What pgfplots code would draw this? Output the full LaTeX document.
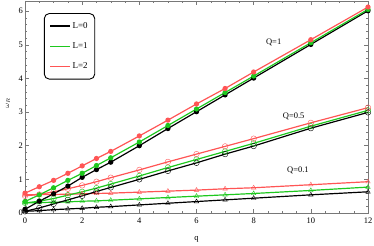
\documentclass[border=0pt]{standalone}
\usepackage{fontspec}
\setmainfont{Liberation Serif}
\usepackage{pgfplots}
\usepackage{pgfplotstable}
\pgfplotsset{compat=1.18}
\definecolor{cgreen}{RGB}{30,200,30}
\definecolor{cred}{RGB}{255,85,85}
\definecolor{cframe}{RGB}{120,120,120}

\pgfplotstableread{
q L0 L1 L2
0 0.11 0.34 0.59
0.5 0.35 0.54 0.78
1 0.57 0.75 0.97
1.5 0.80 0.97 1.18
2 1.06 1.18 1.40
2.5 1.29 1.41 1.62
3 1.51 1.64 1.83
4 2.00 2.11 2.29
5 2.51 2.60 2.76
6 3.01 3.09 3.24
7 3.51 3.58 3.70
8 4.01 4.07 4.19
10 5.01 5.06 5.15
12 6.01 6.05 6.12
}\qone

\pgfplotstableread{
q L0 L1 L2
0 0.05 0.30 0.51
0.5 0.15 0.35 0.55
1 0.27 0.43 0.63
1.5 0.39 0.53 0.72
2 0.51 0.63 0.82
2.5 0.64 0.74 0.93
3 0.76 0.86 1.05
4 1.00 1.10 1.28
5 1.25 1.35 1.52
6 1.49 1.59 1.75
7 1.75 1.83 1.98
8 1.99 2.07 2.21
10 2.52 2.58 2.68
12 2.99 3.05 3.13
}\qhalf

\pgfplotstableread{
q L0 L1 L2
0 0.05 0.30 0.54
0.5 0.07 0.31 0.55
1 0.10 0.32 0.55
1.5 0.12 0.33 0.56
2 0.14 0.35 0.57
2.5 0.17 0.36 0.58
3 0.19 0.38 0.59
4 0.24 0.42 0.62
5 0.29 0.46 0.65
6 0.34 0.50 0.68
7 0.39 0.54 0.72
8 0.44 0.58 0.75
10 0.54 0.67 0.84
12 0.63 0.77 0.93
}\qtenth

\begin{document}
\fontsize{8.5}{10}\selectfont
\begin{tikzpicture}
\useasboundingbox (-25bp,-33bp) rectangle (349bp,213bp);
\begin{axis}[
  at={(0,0)}, anchor=south west,
  scale only axis,
  width=343bp, height=212bp,
  xmin=0, xmax=12, ymin=0, ymax=6.3,
  xtick={0,2,...,12}, ytick={0,1,...,6},
  minor x tick num=3, minor y tick num=4,
  tick align=inside,
  major tick length=4bp, minor tick length=2bp,
  axis line style={cframe, line width=0.5pt},
  every tick/.style={cframe, line width=0.4pt},
  /pgf/number format/assume math mode=true,
  tick label style={font=\fontsize{8.5}{10}\selectfont},
  xticklabel style={yshift=-1.5bp},
  yticklabel style={xshift=1bp},
  xlabel={q}, ylabel={$\omega_R$},
  xlabel style={font=\fontsize{8.5}{10}\selectfont, at={(axis description cs:0.5,0)}, anchor=center, yshift=-26bp},
  ylabel style={font=\fontsize{7.5}{9}\selectfont, at={(axis description cs:-0.05,0.52)}, anchor=center},
  legend style={at={(rel axis cs:0.055,0.943)}, anchor=north west,
    draw=black, line width=0.9pt, rounded corners=5pt,
    font=\fontsize{9}{10}\selectfont,
    inner xsep=5bp, inner ysep=7bp, row sep=9bp},
  legend cell align=left,
  legend image code/.code={\draw[#1] (0bp,0bp) -- (20bp,0bp);},
  clip=true,
]
\addlegendimage{black, line width=1.4pt}
\addlegendentry{L=0}
\addlegendimage{cgreen, line width=1.4pt}
\addlegendentry{L=1}
\addlegendimage{cred, line width=1.4pt}
\addlegendentry{L=2}

% Q = 0.1
\addplot[forget plot, black, line width=1.2pt, mark=triangle, mark size=2.6pt, mark options={solid, line width=0.4pt, fill=none}] table[x=q,y=L0] {\qtenth};
\addplot[forget plot, cgreen, line width=1.2pt, mark=triangle, mark size=2.6pt, mark options={solid, line width=0.4pt, fill=none}] table[x=q,y=L1] {\qtenth};
\addplot[forget plot, cred, line width=1.2pt, mark=triangle, mark size=2.6pt, mark options={solid, line width=0.4pt, fill=none}] table[x=q,y=L2] {\qtenth};
% Q = 0.5
\addplot[forget plot, black, line width=1.2pt, mark=o, mark size=2.8pt, mark options={solid, line width=0.4pt}] table[x=q,y=L0] {\qhalf};
\addplot[forget plot, cgreen, line width=1.2pt, mark=o, mark size=2.8pt, mark options={solid, line width=0.4pt}] table[x=q,y=L1] {\qhalf};
\addplot[forget plot, cred, line width=1.2pt, mark=o, mark size=2.8pt, mark options={solid, line width=0.4pt}] table[x=q,y=L2] {\qhalf};
% Q = 1
\addplot[forget plot, black, line width=1.2pt, mark=*, mark size=2pt] table[x=q,y=L0] {\qone};
\addplot[forget plot, cgreen, line width=1.2pt, mark=*, mark size=2pt] table[x=q,y=L1] {\qone};
\addplot[forget plot, cred, line width=1.2pt, mark=*, mark size=2pt] table[x=q,y=L2] {\qone};

\node[font=\fontsize{8.5}{10}\selectfont] at (axis cs:8.7,5.06) {Q=1};
\node[font=\fontsize{8.5}{10}\selectfont] at (axis cs:9.4,2.88) {Q=0.5};
\node[font=\fontsize{8.5}{10}\selectfont] at (axis cs:9.55,1.27) {Q=0.1};
\end{axis}
\end{tikzpicture}
\end{document}
